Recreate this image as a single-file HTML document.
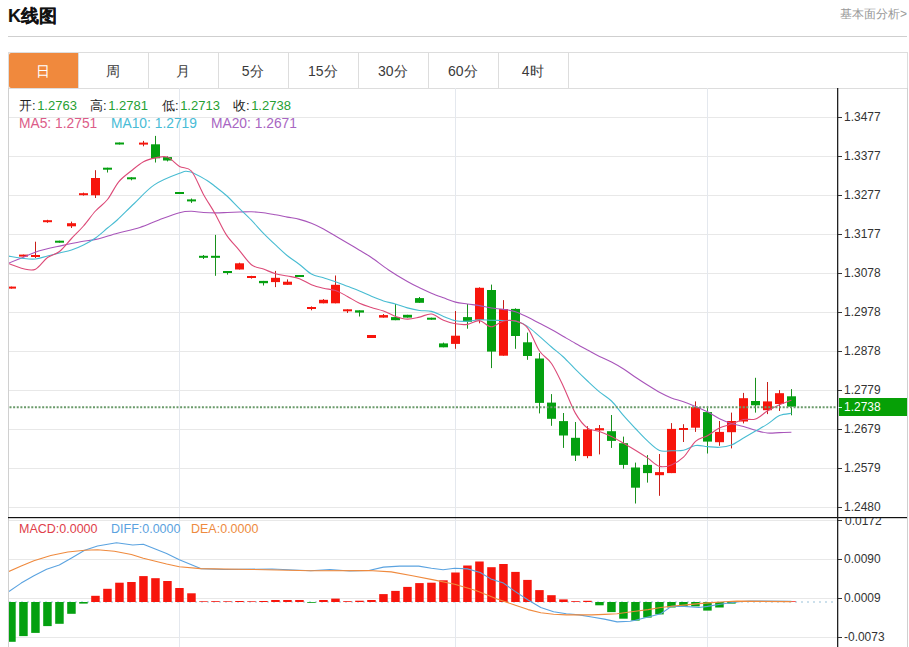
<!DOCTYPE html>
<html><head><meta charset="utf-8">
<style>
html,body{margin:0;padding:0;background:#fff;}
body{width:909px;height:647px;position:relative;overflow:hidden;font-family:"Liberation Sans",sans-serif;}
.abs{position:absolute;}
#title{left:8px;top:4.5px;font-size:18px;font-weight:bold;color:#111;line-height:22px;letter-spacing:0px;-webkit-text-stroke:0.15px #111;}
#link{right:2px;top:6px;font-size:12px;color:#999;line-height:16px;}
#hline{left:8px;top:36px;width:899px;height:1px;background:#cfcfcf;}
#tabs{left:8px;top:52px;width:898px;height:35px;border:1px solid #ddd;border-right:1px solid #ddd;}
.tab{position:absolute;top:0;height:35px;width:70px;border-right:1px solid #ddd;box-sizing:border-box;text-align:center;font-size:14px;line-height:37px;color:#3a3a3a;padding-right:1.5px;}
.tab.on{background:#f0893d;color:#fff;border-radius:2px 0 0 2px;}
#chart{left:8px;top:88px;width:898px;height:570px;border-left:1px solid #d0d0d0;border-right:1px solid #d0d0d0;}
svg{position:absolute;left:0;top:0;}
.tl{position:absolute;left:844px;font-size:13px;line-height:16px;color:#333;transform:scaleX(0.92);transform-origin:0 0;}
.info{position:absolute;font-size:13px;line-height:16px;white-space:nowrap;}
.ma{font-size:14px;}
.k{color:#222}
.g{color:#26a032;margin-left:1.5px}
</style></head><body>
<div id="title" class="abs">K线图</div>
<div id="link" class="abs">基本面分析&gt;</div>
<div id="hline" class="abs"></div>
<div id="tabs" class="abs">
<div class="tab on" style="left:0">日</div>
<div class="tab" style="left:70px">周</div>
<div class="tab" style="left:140px">月</div>
<div class="tab" style="left:210px">5分</div>
<div class="tab" style="left:280px">15分</div>
<div class="tab" style="left:350px">30分</div>
<div class="tab" style="left:420px">60分</div>
<div class="tab" style="left:490px">4时</div>
</div>
<div id="chart" class="abs"></div>
<svg width="909" height="647" viewBox="0 0 909 647">
<defs><clipPath id="cp"><rect x="9" y="88" width="828" height="559"/></clipPath></defs>
<g clip-path="url(#cp)">
<line x1="9" y1="117.5" x2="837" y2="117.5" stroke="#e8e8e8" stroke-width="1"/>
<line x1="9" y1="156.5" x2="837" y2="156.5" stroke="#e8e8e8" stroke-width="1"/>
<line x1="9" y1="195.5" x2="837" y2="195.5" stroke="#e8e8e8" stroke-width="1"/>
<line x1="9" y1="234.5" x2="837" y2="234.5" stroke="#e8e8e8" stroke-width="1"/>
<line x1="9" y1="273.5" x2="837" y2="273.5" stroke="#e8e8e8" stroke-width="1"/>
<line x1="9" y1="312.5" x2="837" y2="312.5" stroke="#e8e8e8" stroke-width="1"/>
<line x1="9" y1="351.5" x2="837" y2="351.5" stroke="#e8e8e8" stroke-width="1"/>
<line x1="9" y1="390.5" x2="837" y2="390.5" stroke="#e8e8e8" stroke-width="1"/>
<line x1="9" y1="429.5" x2="837" y2="429.5" stroke="#e8e8e8" stroke-width="1"/>
<line x1="9" y1="468.5" x2="837" y2="468.5" stroke="#e8e8e8" stroke-width="1"/>
<line x1="9" y1="507.5" x2="837" y2="507.5" stroke="#e8e8e8" stroke-width="1"/>
<line x1="9" y1="520.5" x2="837" y2="520.5" stroke="#e8e8e8" stroke-width="1"/>
<line x1="9" y1="559.5" x2="837" y2="559.5" stroke="#e8e8e8" stroke-width="1"/>
<line x1="9" y1="598.5" x2="837" y2="598.5" stroke="#e8e8e8" stroke-width="1"/>
<line x1="9" y1="637.5" x2="837" y2="637.5" stroke="#e8e8e8" stroke-width="1"/>
<line x1="179.5" y1="88" x2="179.5" y2="647" stroke="#e4e8ee" stroke-width="1"/>
<line x1="455.5" y1="88" x2="455.5" y2="647" stroke="#e4e8ee" stroke-width="1"/>
<line x1="707.5" y1="88" x2="707.5" y2="647" stroke="#e4e8ee" stroke-width="1"/>
<line x1="9" y1="602" x2="837" y2="602" stroke="#bcd6e6" stroke-width="1.5" stroke-dasharray="2,4"/>
<rect x="11.0" y="286.6" width="1" height="2.0" fill="#c81e18"/>
<rect x="7.0" y="286.6" width="9" height="2.0" fill="#f7150c"/>
<rect x="23.0" y="254.6" width="1" height="2.0" fill="#c81e18"/>
<rect x="19.0" y="254.6" width="9" height="2.0" fill="#f7150c"/>
<rect x="35.0" y="241.7" width="1" height="16.3" fill="#c81e18"/>
<rect x="31.0" y="255.0" width="9" height="2.0" fill="#f7150c"/>
<rect x="47.0" y="219.8" width="1" height="3.0" fill="#c81e18"/>
<rect x="43.0" y="220.2" width="9" height="2.0" fill="#f7150c"/>
<rect x="59.0" y="240.7" width="1" height="2.0" fill="#18901c"/>
<rect x="55.0" y="240.7" width="9" height="2.0" fill="#04a010"/>
<rect x="71.0" y="221.6" width="1" height="6.4" fill="#c81e18"/>
<rect x="67.0" y="223.2" width="9" height="3.1" fill="#f7150c"/>
<rect x="83.0" y="192.6" width="1" height="3.0" fill="#c81e18"/>
<rect x="79.0" y="193.2" width="9" height="2.0" fill="#f7150c"/>
<rect x="95.0" y="170.2" width="1" height="27.8" fill="#c81e18"/>
<rect x="91.0" y="178.0" width="9" height="17.3" fill="#f7150c"/>
<rect x="107.0" y="167.7" width="1" height="4.8" fill="#18901c"/>
<rect x="103.0" y="167.7" width="9" height="2.0" fill="#04a010"/>
<rect x="119.0" y="142.5" width="1" height="2.0" fill="#18901c"/>
<rect x="115.0" y="142.5" width="9" height="2.0" fill="#04a010"/>
<rect x="131.0" y="177.3" width="1" height="3.0" fill="#18901c"/>
<rect x="127.0" y="177.3" width="9" height="2.0" fill="#04a010"/>
<rect x="143.0" y="140.9" width="1" height="5.4" fill="#c81e18"/>
<rect x="139.0" y="142.6" width="9" height="2.0" fill="#f7150c"/>
<rect x="155.0" y="135.9" width="1" height="26.6" fill="#18901c"/>
<rect x="151.0" y="144.3" width="9" height="14.0" fill="#04a010"/>
<rect x="167.0" y="156.3" width="1" height="5.1" fill="#18901c"/>
<rect x="163.0" y="157.1" width="9" height="3.4" fill="#04a010"/>
<rect x="179.0" y="192.0" width="1" height="2.0" fill="#18901c"/>
<rect x="175.0" y="192.0" width="9" height="2.0" fill="#04a010"/>
<rect x="191.0" y="198.5" width="1" height="4.4" fill="#18901c"/>
<rect x="187.0" y="199.4" width="9" height="2.0" fill="#04a010"/>
<rect x="203.0" y="255.0" width="1" height="4.0" fill="#18901c"/>
<rect x="199.0" y="255.8" width="9" height="2.0" fill="#04a010"/>
<rect x="215.0" y="234.9" width="1" height="40.9" fill="#18901c"/>
<rect x="211.0" y="255.8" width="9" height="2.0" fill="#04a010"/>
<rect x="227.0" y="271.0" width="1" height="3.6" fill="#18901c"/>
<rect x="223.0" y="271.0" width="9" height="2.0" fill="#04a010"/>
<rect x="239.0" y="262.7" width="1" height="6.8" fill="#c81e18"/>
<rect x="235.0" y="263.3" width="9" height="6.2" fill="#f7150c"/>
<rect x="251.0" y="275.8" width="1" height="2.8" fill="#c81e18"/>
<rect x="247.0" y="276.0" width="9" height="2.0" fill="#f7150c"/>
<rect x="263.0" y="280.9" width="1" height="4.6" fill="#18901c"/>
<rect x="259.0" y="280.9" width="9" height="2.3" fill="#04a010"/>
<rect x="275.0" y="270.9" width="1" height="16.2" fill="#c81e18"/>
<rect x="271.0" y="277.8" width="9" height="4.3" fill="#f7150c"/>
<rect x="287.0" y="279.4" width="1" height="5.4" fill="#c81e18"/>
<rect x="283.0" y="281.7" width="9" height="3.1" fill="#f7150c"/>
<rect x="299.0" y="275.0" width="1" height="2.0" fill="#18901c"/>
<rect x="295.0" y="275.0" width="9" height="2.0" fill="#04a010"/>
<rect x="311.0" y="306.4" width="1" height="3.9" fill="#c81e18"/>
<rect x="307.0" y="307.0" width="9" height="2.0" fill="#f7150c"/>
<rect x="323.0" y="299.1" width="1" height="4.2" fill="#c81e18"/>
<rect x="319.0" y="299.8" width="9" height="3.5" fill="#f7150c"/>
<rect x="335.0" y="275.5" width="1" height="27.8" fill="#c81e18"/>
<rect x="331.0" y="284.8" width="9" height="18.5" fill="#f7150c"/>
<rect x="347.0" y="309.3" width="1" height="3.7" fill="#c81e18"/>
<rect x="343.0" y="309.3" width="9" height="2.0" fill="#f7150c"/>
<rect x="359.0" y="310.3" width="1" height="6.2" fill="#18901c"/>
<rect x="355.0" y="310.3" width="9" height="2.3" fill="#04a010"/>
<rect x="371.0" y="335.0" width="1" height="3.0" fill="#c81e18"/>
<rect x="367.0" y="335.0" width="9" height="3.0" fill="#f7150c"/>
<rect x="383.0" y="314.0" width="1" height="3.6" fill="#c81e18"/>
<rect x="379.0" y="315.1" width="9" height="2.5" fill="#f7150c"/>
<rect x="395.0" y="304.0" width="1" height="16.2" fill="#18901c"/>
<rect x="391.0" y="317.1" width="9" height="3.1" fill="#04a010"/>
<rect x="407.0" y="314.8" width="1" height="2.8" fill="#18901c"/>
<rect x="403.0" y="314.8" width="9" height="2.8" fill="#04a010"/>
<rect x="419.0" y="297.0" width="1" height="5.8" fill="#18901c"/>
<rect x="415.0" y="298.1" width="9" height="4.7" fill="#04a010"/>
<rect x="431.0" y="317.7" width="1" height="2.0" fill="#18901c"/>
<rect x="427.0" y="317.7" width="9" height="2.0" fill="#04a010"/>
<rect x="443.0" y="342.6" width="1" height="4.7" fill="#18901c"/>
<rect x="439.0" y="343.4" width="9" height="3.9" fill="#04a010"/>
<rect x="455.0" y="311.0" width="1" height="37.8" fill="#c81e18"/>
<rect x="451.0" y="335.7" width="9" height="8.2" fill="#f7150c"/>
<rect x="467.0" y="304.0" width="1" height="24.7" fill="#18901c"/>
<rect x="463.0" y="317.1" width="9" height="4.7" fill="#04a010"/>
<rect x="479.0" y="287.3" width="1" height="36.0" fill="#c81e18"/>
<rect x="475.0" y="287.8" width="9" height="32.0" fill="#f7150c"/>
<rect x="491.0" y="284.6" width="1" height="83.5" fill="#18901c"/>
<rect x="487.0" y="290.0" width="9" height="61.6" fill="#04a010"/>
<rect x="503.0" y="300.1" width="1" height="55.6" fill="#c81e18"/>
<rect x="499.0" y="309.1" width="9" height="46.6" fill="#f7150c"/>
<rect x="515.0" y="308.3" width="1" height="40.5" fill="#18901c"/>
<rect x="511.0" y="308.9" width="9" height="27.1" fill="#04a010"/>
<rect x="527.0" y="332.6" width="1" height="27.2" fill="#18901c"/>
<rect x="523.0" y="342.3" width="9" height="13.7" fill="#04a010"/>
<rect x="539.0" y="353.1" width="1" height="60.3" fill="#18901c"/>
<rect x="535.0" y="358.5" width="9" height="44.4" fill="#04a010"/>
<rect x="551.0" y="394.1" width="1" height="31.7" fill="#18901c"/>
<rect x="547.0" y="402.6" width="9" height="16.2" fill="#04a010"/>
<rect x="563.0" y="413.0" width="1" height="34.9" fill="#18901c"/>
<rect x="559.0" y="421.1" width="9" height="14.4" fill="#04a010"/>
<rect x="575.0" y="422.0" width="1" height="39.0" fill="#18901c"/>
<rect x="571.0" y="437.8" width="9" height="17.8" fill="#04a010"/>
<rect x="587.0" y="426.2" width="1" height="32.0" fill="#c81e18"/>
<rect x="583.0" y="429.3" width="9" height="26.8" fill="#f7150c"/>
<rect x="599.0" y="425.0" width="1" height="29.4" fill="#c81e18"/>
<rect x="595.0" y="428.2" width="9" height="2.2" fill="#f7150c"/>
<rect x="611.0" y="415.0" width="1" height="32.9" fill="#18901c"/>
<rect x="607.0" y="431.2" width="9" height="9.7" fill="#04a010"/>
<rect x="623.0" y="436.6" width="1" height="32.1" fill="#18901c"/>
<rect x="619.0" y="443.2" width="9" height="21.7" fill="#04a010"/>
<rect x="635.0" y="462.6" width="1" height="40.9" fill="#18901c"/>
<rect x="631.0" y="467.5" width="9" height="20.2" fill="#04a010"/>
<rect x="647.0" y="455.1" width="1" height="27.5" fill="#18901c"/>
<rect x="643.0" y="464.9" width="9" height="8.2" fill="#04a010"/>
<rect x="659.0" y="454.0" width="1" height="41.8" fill="#c81e18"/>
<rect x="655.0" y="472.1" width="9" height="3.1" fill="#f7150c"/>
<rect x="671.0" y="423.1" width="1" height="50.0" fill="#c81e18"/>
<rect x="667.0" y="428.9" width="9" height="44.2" fill="#f7150c"/>
<rect x="683.0" y="424.2" width="1" height="17.8" fill="#c81e18"/>
<rect x="679.0" y="428.0" width="9" height="2.0" fill="#f7150c"/>
<rect x="695.0" y="401.4" width="1" height="30.5" fill="#c81e18"/>
<rect x="691.0" y="407.1" width="9" height="20.6" fill="#f7150c"/>
<rect x="707.0" y="406.4" width="1" height="47.1" fill="#18901c"/>
<rect x="703.0" y="412.1" width="9" height="29.5" fill="#04a010"/>
<rect x="719.0" y="421.0" width="1" height="24.8" fill="#c81e18"/>
<rect x="715.0" y="431.9" width="9" height="10.3" fill="#f7150c"/>
<rect x="731.0" y="412.6" width="1" height="35.8" fill="#c81e18"/>
<rect x="727.0" y="421.0" width="9" height="11.2" fill="#f7150c"/>
<rect x="743.0" y="392.9" width="1" height="30.5" fill="#c81e18"/>
<rect x="739.0" y="398.2" width="9" height="23.3" fill="#f7150c"/>
<rect x="755.0" y="377.8" width="1" height="34.8" fill="#18901c"/>
<rect x="751.0" y="401.0" width="9" height="4.3" fill="#04a010"/>
<rect x="767.0" y="382.0" width="1" height="32.1" fill="#c81e18"/>
<rect x="763.0" y="401.4" width="9" height="8.8" fill="#f7150c"/>
<rect x="779.0" y="390.1" width="1" height="20.9" fill="#c81e18"/>
<rect x="775.0" y="393.2" width="9" height="10.8" fill="#f7150c"/>
<rect x="791.0" y="389.1" width="1" height="26.2" fill="#18901c"/>
<rect x="787.0" y="396.3" width="9" height="10.4" fill="#04a010"/>
<path d="M8.00,263.40 C10.58,262.37 18.40,259.27 23.50,257.20 C28.60,255.13 32.22,252.93 38.60,251.00 C44.98,249.07 54.83,247.15 61.80,245.60 C68.77,244.05 74.73,242.73 80.40,241.70 C86.07,240.67 89.62,240.82 95.80,239.40 C101.98,237.98 110.15,235.18 117.50,233.20 C124.85,231.22 133.00,229.70 139.90,227.50 C146.80,225.30 152.30,222.47 158.90,220.00 C165.50,217.53 174.08,214.15 179.50,212.70 C184.92,211.25 187.40,211.33 191.40,211.30 C195.40,211.27 199.48,212.23 203.50,212.50 C207.52,212.77 211.52,212.90 215.50,212.90 C219.48,212.90 223.40,212.65 227.40,212.50 C231.40,212.35 235.50,212.13 239.50,212.00 C243.50,211.87 247.40,211.57 251.40,211.70 C255.40,211.83 259.48,212.28 263.50,212.80 C267.52,213.32 271.52,214.08 275.50,214.80 C279.48,215.52 283.40,216.33 287.40,217.10 C291.40,217.87 295.50,218.37 299.50,219.40 C303.50,220.43 307.40,221.70 311.40,223.30 C315.40,224.90 319.48,226.88 323.50,229.00 C327.52,231.12 331.52,233.67 335.50,236.00 C339.48,238.33 343.40,240.63 347.40,243.00 C351.40,245.37 355.50,247.78 359.50,250.20 C363.50,252.62 366.55,254.20 371.40,257.50 C376.25,260.80 382.60,265.98 388.60,270.00 C394.60,274.02 402.25,278.63 407.40,281.60 C412.55,284.57 415.50,285.87 419.50,287.80 C423.50,289.73 427.40,291.53 431.40,293.20 C435.40,294.87 439.48,296.32 443.50,297.80 C447.52,299.28 451.52,301.07 455.50,302.10 C459.48,303.13 463.40,303.42 467.40,304.00 C471.40,304.58 475.50,304.93 479.50,305.60 C483.50,306.27 487.40,307.37 491.40,308.00 C495.40,308.63 499.48,308.78 503.50,309.40 C507.52,310.02 511.50,310.42 515.50,311.70 C519.50,312.98 523.50,315.17 527.50,317.10 C531.50,319.03 535.52,321.23 539.50,323.30 C543.48,325.37 547.40,327.30 551.40,329.50 C555.40,331.70 559.48,334.18 563.50,336.50 C567.52,338.82 571.50,341.15 575.50,343.40 C579.50,345.65 583.50,347.82 587.50,350.00 C591.50,352.18 595.50,354.50 599.50,356.50 C603.50,358.50 607.48,359.92 611.50,362.00 C615.52,364.08 619.53,366.42 623.60,369.00 C627.67,371.58 631.92,374.83 635.90,377.50 C639.88,380.17 643.50,382.50 647.50,385.00 C651.50,387.50 655.92,390.35 659.90,392.50 C663.88,394.65 667.47,396.37 671.40,397.90 C675.33,399.43 679.48,400.28 683.50,401.70 C687.52,403.12 691.52,404.72 695.50,406.40 C699.48,408.08 703.40,409.75 707.40,411.80 C711.40,413.85 715.50,416.77 719.50,418.70 C723.50,420.63 727.40,422.10 731.40,423.40 C735.40,424.70 739.48,425.35 743.50,426.50 C747.52,427.65 751.52,429.22 755.50,430.30 C759.48,431.38 763.40,432.62 767.40,433.00 C771.40,433.38 775.50,432.72 779.50,432.60 C783.50,432.48 789.42,432.35 791.40,432.30" fill="none" stroke="#a855ba" stroke-width="1.1"/>
<path d="M8.00,256.00 C10.58,256.42 18.92,258.00 23.50,258.50 C28.08,259.00 31.50,259.42 35.50,259.00 C39.50,258.58 43.50,257.00 47.50,256.00 C51.50,255.00 55.50,254.00 59.50,253.00 C63.50,252.00 67.50,251.33 71.50,250.00 C75.50,248.67 79.50,247.00 83.50,245.00 C87.50,243.00 91.50,240.83 95.50,238.00 C99.50,235.17 103.88,231.00 107.50,228.00 C111.12,225.00 112.75,224.08 117.20,220.00 C121.65,215.92 128.02,209.35 134.20,203.50 C140.38,197.65 146.75,189.93 154.30,184.90 C161.85,179.87 173.58,175.48 179.50,173.30 C185.42,171.12 185.33,170.68 189.80,171.80 C194.27,172.92 202.13,177.60 206.30,180.00 C210.47,182.40 211.45,183.62 214.80,186.20 C218.15,188.78 222.42,191.90 226.40,195.50 C230.38,199.10 234.53,203.68 238.70,207.80 C242.87,211.92 247.27,215.95 251.40,220.20 C255.53,224.45 259.48,229.18 263.50,233.30 C267.52,237.42 271.52,241.17 275.50,244.90 C279.48,248.63 283.40,252.43 287.40,255.70 C291.40,258.97 295.50,261.45 299.50,264.50 C303.50,267.55 307.40,271.78 311.40,274.00 C315.40,276.22 319.48,276.52 323.50,277.80 C327.52,279.08 331.52,280.28 335.50,281.70 C339.48,283.12 343.40,284.75 347.40,286.30 C351.40,287.85 355.50,289.33 359.50,291.00 C363.50,292.67 367.40,294.65 371.40,296.30 C375.40,297.95 379.48,299.62 383.50,300.90 C387.52,302.18 391.52,302.83 395.50,304.00 C399.48,305.17 403.40,306.82 407.40,307.90 C411.40,308.98 415.50,309.92 419.50,310.50 C423.50,311.08 427.40,310.42 431.40,311.40 C435.40,312.38 439.48,314.85 443.50,316.40 C447.52,317.95 451.52,319.88 455.50,320.70 C459.48,321.52 463.40,321.45 467.40,321.30 C471.40,321.15 475.50,319.97 479.50,319.80 C483.50,319.63 487.40,320.18 491.40,320.30 C495.40,320.42 499.48,320.38 503.50,320.50 C507.52,320.62 511.50,320.02 515.50,321.00 C519.50,321.98 523.50,323.83 527.50,326.40 C531.50,328.97 535.50,332.97 539.50,336.40 C543.50,339.83 547.52,343.57 551.50,347.00 C555.48,350.43 559.40,353.27 563.40,357.00 C567.40,360.73 571.48,365.40 575.50,369.40 C579.52,373.40 583.52,377.27 587.50,381.00 C591.48,384.73 595.40,388.47 599.40,391.80 C603.40,395.13 607.47,397.02 611.50,401.00 C615.53,404.98 619.62,411.12 623.60,415.70 C627.58,420.28 631.42,424.30 635.40,428.50 C639.38,432.70 643.48,437.23 647.50,440.90 C651.52,444.57 655.52,448.87 659.50,450.50 C663.48,452.13 667.40,450.73 671.40,450.70 C675.40,450.67 679.48,451.17 683.50,450.30 C687.52,449.43 691.52,446.12 695.50,445.50 C699.48,444.88 703.40,446.30 707.40,446.60 C711.40,446.90 715.50,447.57 719.50,447.30 C723.50,447.03 727.40,446.53 731.40,445.00 C735.40,443.47 739.48,440.42 743.50,438.10 C747.52,435.78 751.52,433.43 755.50,431.10 C759.48,428.77 763.40,426.68 767.40,424.10 C771.40,421.52 775.50,417.40 779.50,415.60 C783.50,413.80 789.42,413.68 791.40,413.30" fill="none" stroke="#48bcd2" stroke-width="1.1"/>
<path d="M8.00,263.40 C10.58,264.30 18.92,267.83 23.50,268.80 C28.08,269.77 31.50,271.08 35.50,269.20 C39.50,267.32 43.50,260.45 47.50,257.50 C51.50,254.55 55.50,254.67 59.50,251.50 C63.50,248.33 67.50,242.75 71.50,238.50 C75.50,234.25 79.50,230.58 83.50,226.00 C87.50,221.42 91.50,215.42 95.50,211.00 C99.50,206.58 103.63,204.37 107.50,199.50 C111.37,194.63 114.77,186.55 118.70,181.80 C122.63,177.05 126.97,174.35 131.10,171.00 C135.23,167.65 139.43,163.88 143.50,161.70 C147.57,159.52 151.52,158.67 155.50,157.90 C159.48,157.13 163.40,155.68 167.40,157.10 C171.40,158.52 175.50,164.08 179.50,166.40 C183.50,168.72 187.45,166.42 191.40,171.00 C195.35,175.58 199.30,186.87 203.20,193.90 C207.10,200.93 210.93,206.37 214.80,213.20 C218.67,220.03 222.42,228.83 226.40,234.90 C230.38,240.97 234.53,244.63 238.70,249.60 C242.87,254.57 247.27,261.45 251.40,264.70 C255.53,267.95 259.48,267.60 263.50,269.10 C267.52,270.60 271.52,272.55 275.50,273.70 C279.48,274.85 283.40,275.17 287.40,276.00 C291.40,276.83 295.50,277.23 299.50,278.70 C303.50,280.17 307.40,283.20 311.40,284.80 C315.40,286.40 319.48,287.35 323.50,288.30 C327.52,289.25 331.52,289.15 335.50,290.50 C339.48,291.85 343.40,294.27 347.40,296.40 C351.40,298.53 355.50,301.45 359.50,303.30 C363.50,305.15 367.40,306.22 371.40,307.50 C375.40,308.78 379.48,309.52 383.50,311.00 C387.52,312.48 391.52,315.05 395.50,316.40 C399.48,317.75 403.40,318.98 407.40,319.10 C411.40,319.22 415.50,317.95 419.50,317.10 C423.50,316.25 427.40,313.48 431.40,314.00 C435.40,314.52 439.48,318.57 443.50,320.20 C447.52,321.83 451.52,323.10 455.50,323.80 C459.48,324.50 463.40,324.93 467.40,324.40 C471.40,323.87 475.50,320.20 479.50,320.60 C483.50,321.00 487.40,326.73 491.40,326.80 C495.40,326.87 499.48,321.97 503.50,321.00 C507.52,320.03 511.50,319.85 515.50,321.00 C519.50,322.15 523.50,322.90 527.50,327.90 C531.50,332.90 535.50,345.07 539.50,351.00 C543.50,356.93 547.52,357.60 551.50,363.50 C555.48,369.40 559.40,378.08 563.40,386.40 C567.40,394.72 571.48,406.45 575.50,413.40 C579.52,420.35 583.52,425.10 587.50,428.10 C591.48,431.10 595.40,430.00 599.40,431.40 C603.40,432.80 607.48,434.53 611.50,436.50 C615.52,438.47 619.52,440.92 623.50,443.20 C627.48,445.48 631.40,447.75 635.40,450.20 C639.40,452.65 643.48,455.20 647.50,457.90 C651.52,460.60 655.52,465.23 659.50,466.40 C663.48,467.57 667.40,466.43 671.40,464.90 C675.40,463.37 679.48,461.12 683.50,457.20 C687.52,453.28 691.52,444.98 695.50,441.40 C699.48,437.82 703.40,437.93 707.40,435.70 C711.40,433.47 715.50,429.93 719.50,428.00 C723.50,426.07 727.40,425.52 731.40,424.10 C735.40,422.68 739.48,420.35 743.50,419.50 C747.52,418.65 751.52,420.42 755.50,419.00 C759.48,417.58 763.40,413.37 767.40,411.00 C771.40,408.63 775.50,406.60 779.50,404.80 C783.50,403.00 789.42,400.97 791.40,400.20" fill="none" stroke="#dc4a78" stroke-width="1.1"/>
<line x1="9.5" y1="407.2" x2="837" y2="407.2" stroke="#6a9a6a" stroke-width="2" stroke-dasharray="2,1.63"/>
<rect x="7.2" y="602.0" width="8.5" height="39.8" fill="#04a010"/>
<rect x="19.2" y="602.0" width="8.5" height="34.1" fill="#04a010"/>
<rect x="31.2" y="602.0" width="8.5" height="30.9" fill="#04a010"/>
<rect x="43.2" y="602.0" width="8.5" height="24.1" fill="#04a010"/>
<rect x="55.2" y="602.0" width="8.5" height="21.8" fill="#04a010"/>
<rect x="67.2" y="602.0" width="8.5" height="11.8" fill="#04a010"/>
<rect x="79.2" y="602.0" width="8.5" height="1.6" fill="#04a010"/>
<rect x="91.2" y="595.8" width="8.5" height="6.2" fill="#f7150c"/>
<rect x="103.2" y="588.8" width="8.5" height="13.2" fill="#f7150c"/>
<rect x="115.2" y="582.7" width="8.5" height="19.3" fill="#f7150c"/>
<rect x="127.2" y="582.0" width="8.5" height="20.0" fill="#f7150c"/>
<rect x="139.2" y="576.1" width="8.5" height="25.9" fill="#f7150c"/>
<rect x="151.2" y="578.2" width="8.5" height="23.8" fill="#f7150c"/>
<rect x="163.2" y="581.0" width="8.5" height="21.0" fill="#f7150c"/>
<rect x="175.2" y="588.0" width="8.5" height="14.0" fill="#f7150c"/>
<rect x="187.2" y="593.3" width="8.5" height="8.7" fill="#f7150c"/>
<rect x="199.2" y="601.3" width="8.5" height="0.7" fill="#f7150c"/>
<rect x="211.2" y="601.2" width="8.5" height="0.8" fill="#f7150c"/>
<rect x="223.2" y="601.3" width="8.5" height="0.7" fill="#f7150c"/>
<rect x="235.2" y="601.0" width="8.5" height="1.0" fill="#f7150c"/>
<rect x="247.2" y="601.3" width="8.5" height="0.7" fill="#f7150c"/>
<rect x="259.2" y="601.0" width="8.5" height="1.0" fill="#f7150c"/>
<rect x="271.2" y="600.0" width="8.5" height="2.0" fill="#f7150c"/>
<rect x="283.2" y="600.0" width="8.5" height="2.0" fill="#f7150c"/>
<rect x="295.2" y="600.0" width="8.5" height="2.0" fill="#f7150c"/>
<rect x="307.2" y="602.0" width="8.5" height="0.8" fill="#04a010"/>
<rect x="319.2" y="600.0" width="8.5" height="2.0" fill="#f7150c"/>
<rect x="331.2" y="598.6" width="8.5" height="3.4" fill="#f7150c"/>
<rect x="343.2" y="601.2" width="8.5" height="0.8" fill="#f7150c"/>
<rect x="355.2" y="600.7" width="8.5" height="1.3" fill="#f7150c"/>
<rect x="367.2" y="600.0" width="8.5" height="2.0" fill="#f7150c"/>
<rect x="379.2" y="594.1" width="8.5" height="7.9" fill="#f7150c"/>
<rect x="391.2" y="590.9" width="8.5" height="11.1" fill="#f7150c"/>
<rect x="403.2" y="586.9" width="8.5" height="15.1" fill="#f7150c"/>
<rect x="415.2" y="583.1" width="8.5" height="18.9" fill="#f7150c"/>
<rect x="427.2" y="582.7" width="8.5" height="19.3" fill="#f7150c"/>
<rect x="439.2" y="580.3" width="8.5" height="21.7" fill="#f7150c"/>
<rect x="451.2" y="572.5" width="8.5" height="29.5" fill="#f7150c"/>
<rect x="463.2" y="565.5" width="8.5" height="36.5" fill="#f7150c"/>
<rect x="475.2" y="561.5" width="8.5" height="40.5" fill="#f7150c"/>
<rect x="487.2" y="567.2" width="8.5" height="34.8" fill="#f7150c"/>
<rect x="499.2" y="564.0" width="8.5" height="38.0" fill="#f7150c"/>
<rect x="511.2" y="571.9" width="8.5" height="30.1" fill="#f7150c"/>
<rect x="523.2" y="579.9" width="8.5" height="22.1" fill="#f7150c"/>
<rect x="535.2" y="590.1" width="8.5" height="11.9" fill="#f7150c"/>
<rect x="547.2" y="595.2" width="8.5" height="6.8" fill="#f7150c"/>
<rect x="559.2" y="599.4" width="8.5" height="2.6" fill="#f7150c"/>
<rect x="571.2" y="601.2" width="8.5" height="0.8" fill="#f7150c"/>
<rect x="583.2" y="600.8" width="8.5" height="1.2" fill="#f7150c"/>
<rect x="595.2" y="602.0" width="8.5" height="3.3" fill="#04a010"/>
<rect x="607.2" y="602.0" width="8.5" height="10.1" fill="#04a010"/>
<rect x="619.2" y="602.0" width="8.5" height="16.7" fill="#04a010"/>
<rect x="631.2" y="602.0" width="8.5" height="18.6" fill="#04a010"/>
<rect x="643.2" y="602.0" width="8.5" height="15.6" fill="#04a010"/>
<rect x="655.2" y="602.0" width="8.5" height="12.4" fill="#04a010"/>
<rect x="667.2" y="602.0" width="8.5" height="5.5" fill="#04a010"/>
<rect x="679.2" y="602.0" width="8.5" height="5.0" fill="#04a010"/>
<rect x="691.2" y="602.0" width="8.5" height="4.4" fill="#04a010"/>
<rect x="703.2" y="602.0" width="8.5" height="8.6" fill="#04a010"/>
<rect x="715.2" y="602.0" width="8.5" height="5.5" fill="#04a010"/>
<rect x="727.2" y="602.0" width="8.5" height="1.6" fill="#04a010"/>
<rect x="739.2" y="601.2" width="8.5" height="0.8" fill="#f7150c"/>
<rect x="751.2" y="601.3" width="8.5" height="0.7" fill="#f7150c"/>
<rect x="763.2" y="601.2" width="8.5" height="0.8" fill="#f7150c"/>
<rect x="775.2" y="601.3" width="8.5" height="0.7" fill="#f7150c"/>
<rect x="787.2" y="601.3" width="8.5" height="0.7" fill="#f7150c"/>
<polyline points="8.9,591.6 21.2,583.1 33.9,575.7 46.6,569.3 59.3,565.1 72.0,557.7 84.7,550.3 97.5,546.0 116.5,542.8 132.7,545.0 143.3,544.3 166.6,553.4 179.3,559.8 200.6,568.6 224.0,569.5 272.0,569.0 310.7,570.7 330.0,569.5 349.5,571.0 368.9,570.5 383.4,567.1 399.7,566.1 418.7,566.1 431.4,568.3 443.1,569.7 454.7,568.3 467.5,568.9 480.2,572.5 490.8,578.9 503.5,583.1 515.4,591.6 528.1,600.0 540.8,607.5 553.6,611.7 566.3,613.8 579.0,614.9 591.7,617.0 604.4,619.1 617.1,621.9 630.0,621.2 635.4,620.2 648.1,617.0 660.8,613.8 671.4,606.4 684.2,606.4 699.0,607.5 707.5,606.4 720.2,604.3 730.8,602.8 741.4,601.5 750.0,601.1 791.4,601.3" fill="none" stroke="#5ba3e0" stroke-width="1.1" stroke-linejoin="round"/>
<polyline points="8.9,571.4 21.2,566.1 33.9,560.8 50.8,555.5 67.8,552.0 84.7,550.3 97.5,549.8 114.4,551.3 131.4,554.5 143.3,558.3 166.6,564.0 179.3,566.8 200.6,568.6 252.6,569.5 310.7,570.7 368.9,570.5 391.2,571.9 412.4,575.7 433.6,579.9 454.7,584.2 475.9,590.5 497.1,599.0 515.4,605.3 528.1,609.6 540.8,612.8 553.6,614.2 566.3,614.9 579.0,614.9 591.7,614.9 604.4,614.4 617.1,613.8 635.4,611.3 648.1,609.6 660.8,607.5 673.6,606.0 686.3,604.9 699.0,603.6 711.7,602.6 724.4,601.7 737.1,601.1 791.4,601.6" fill="none" stroke="#ef8a3e" stroke-width="1.1" stroke-linejoin="round"/>
</g>
<rect x="8" y="517" width="899" height="1.2" fill="#111"/>
<rect x="837" y="88" width="1.3" height="559" fill="#222"/>
<rect x="838" y="117.0" width="4" height="1" fill="#333"/>
<rect x="838" y="156.0" width="4" height="1" fill="#333"/>
<rect x="838" y="195.0" width="4" height="1" fill="#333"/>
<rect x="838" y="234.0" width="4" height="1" fill="#333"/>
<rect x="838" y="273.0" width="4" height="1" fill="#333"/>
<rect x="838" y="312.0" width="4" height="1" fill="#333"/>
<rect x="838" y="351.0" width="4" height="1" fill="#333"/>
<rect x="838" y="390.0" width="4" height="1" fill="#333"/>
<rect x="838" y="429.0" width="4" height="1" fill="#333"/>
<rect x="838" y="468.0" width="4" height="1" fill="#333"/>
<rect x="838" y="507.0" width="4" height="1" fill="#333"/>
<rect x="838" y="520.0" width="4" height="1" fill="#333"/>
<rect x="838" y="559.0" width="4" height="1" fill="#333"/>
<rect x="838" y="598.0" width="4" height="1" fill="#333"/>
<rect x="838" y="637.0" width="4" height="1" fill="#333"/>
<rect x="839" y="398" width="68" height="18" fill="#06a006"/>
<rect x="838" y="407" width="4" height="1" fill="#cfe"/>
</svg>
<div class="tl" style="top:109.0px">1.3477</div>
<div class="tl" style="top:148.0px">1.3377</div>
<div class="tl" style="top:187.0px">1.3277</div>
<div class="tl" style="top:226.0px">1.3177</div>
<div class="tl" style="top:265.0px">1.3078</div>
<div class="tl" style="top:304.0px">1.2978</div>
<div class="tl" style="top:343.0px">1.2878</div>
<div class="tl" style="top:382.0px">1.2779</div>
<div class="tl" style="top:421.0px">1.2679</div>
<div class="tl" style="top:460.0px">1.2579</div>
<div class="tl" style="top:499.0px">1.2480</div>
<div class="tl" style="top:551.0px">0.0090</div>
<div class="tl" style="top:590.0px">0.0009</div>
<div class="tl" style="top:629.0px">-0.0073</div><div style="position:absolute;left:838px;top:518px;width:70px;height:12px;overflow:hidden"><div class="tl" style="left:7px;top:-5.5px">0.0172</div></div>
<div class="tl" style="top:399px;color:#fff">1.2738</div>
<div class="info" style="left:19px;top:98px"><span class="k">开:</span><span class="g">1.2763</span></div>
<div class="info" style="left:90px;top:98px"><span class="k">高:</span><span class="g">1.2781</span></div>
<div class="info" style="left:162px;top:98px"><span class="k">低:</span><span class="g">1.2713</span></div>
<div class="info" style="left:233px;top:98px"><span class="k">收:</span><span class="g">1.2738</span></div>
<div class="info" style="left:19px;top:115.5px;font-size:13.8px;color:#dc5c88">MA5:&nbsp;1.2751</div>
<div class="info" style="left:111px;top:115.5px;font-size:13.8px;color:#48bcd6">MA10:&nbsp;1.2719</div>
<div class="info" style="left:211px;top:115.5px;font-size:13.8px;color:#a866c2">MA20:&nbsp;1.2671</div>
<div class="info" style="left:19px;top:521px;font-size:12.5px;color:#e0404a">MACD:0.0000</div>
<div class="info" style="left:111px;top:521px;font-size:12.5px;color:#5aa2e0">DIFF:0.0000</div>
<div class="info" style="left:191px;top:521px;font-size:12.5px;color:#ee8a3e">DEA:0.0000</div>
</body></html>
